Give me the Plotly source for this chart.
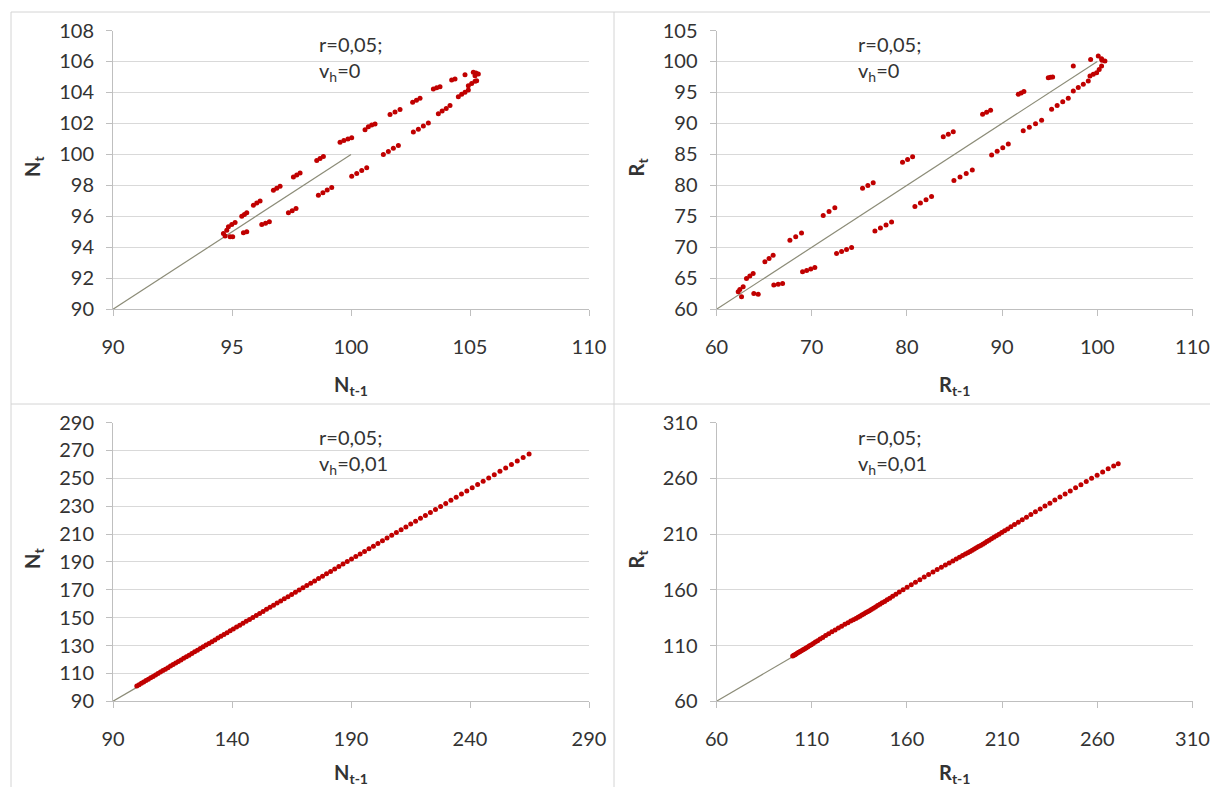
import plotly.graph_objects as go

W, H = 1210, 787

# ---------------- data ----------------
# Panel 1 (r=0,05; v_h=0): N_t vs N_{t-1}
p1_x = [94.85, 94.99, 95.13, 95.41, 95.52, 95.62, 95.90, 96.04, 96.18,
        96.74, 96.88, 97.02, 97.58, 97.72, 97.86, 98.56, 98.70, 98.84,
        99.54, 99.70, 99.87, 100.03, 100.59, 100.73, 100.87, 101.01,
        101.64, 101.85, 102.06, 102.59, 102.75, 102.90, 103.46, 103.60, 103.74,
        104.23, 104.37, 104.79, 105.14, 105.25, 105.35,
        105.21, 105.28, 104.93, 105.07, 105.21, 104.51, 104.65, 104.79, 104.93,
        103.67, 103.83, 104.00, 104.16, 102.62, 102.83, 103.04, 103.25,
        101.36, 101.57, 101.78, 101.99, 100.03, 100.24, 100.45, 100.66,
        98.63, 98.82, 99.00, 99.19, 97.37, 97.53, 97.69, 96.25, 96.41, 96.57,
        95.48, 95.62, 94.92, 95.03, 94.64, 94.71, 94.78]
p1_y = [95.33, 95.47, 95.61, 96.01, 96.12, 96.23, 96.72, 96.86, 97.00,
        97.69, 97.82, 97.94, 98.54, 98.67, 98.80, 99.61, 99.74, 99.87,
        100.79, 100.90, 101.00, 101.07, 101.59, 101.78, 101.90, 101.97,
        102.57, 102.74, 102.90, 103.37, 103.50, 103.62, 104.22, 104.30, 104.37,
        104.80, 104.87, 105.15, 105.30, 105.25, 105.19,
        105.08, 104.76, 104.44, 104.58, 104.72, 103.73, 103.88, 104.02, 104.16,
        102.62, 102.80, 102.97, 103.15, 101.44, 101.63, 101.83, 102.02,
        100.00, 100.19, 100.39, 100.58, 98.59, 98.77, 98.96, 99.14,
        97.36, 97.53, 97.70, 97.86, 96.23, 96.37, 96.51, 95.48, 95.56, 95.65,
        94.94, 95.00, 94.68, 94.68, 94.90, 94.73, 95.11]

# Panel 2 (r=0,05; v_h=0): R_t vs R_{t-1}
p2_x = [62.28, 62.45, 62.63, 62.80, 63.15, 63.50, 63.85, 65.08, 65.52, 65.95,
        67.71, 68.32, 68.93, 71.21, 71.82, 72.43, 75.34, 75.90, 76.46,
        79.54, 80.07, 80.60, 83.82, 84.35, 84.87, 87.95, 88.37, 88.79,
        91.70, 92.00, 92.29, 94.85, 95.08, 95.31, 97.48, 99.30,
        100.10, 100.45, 100.80, 100.50,
        100.45, 100.20, 99.93, 99.23, 99.58, 97.48, 98.00, 98.53, 99.05,
        95.20, 95.78, 96.37, 96.95, 92.22, 92.86, 93.51, 94.15,
        88.90, 89.48, 90.07, 90.65, 84.94, 85.58, 86.23, 86.87,
        80.84, 81.42, 82.01, 82.59, 76.64, 77.22, 77.81, 78.39,
        72.61, 73.14, 73.66, 74.19, 69.04, 69.47, 69.90, 70.33,
        66.02, 66.48, 66.94, 63.92, 64.38]
p2_y = [62.84, 63.21, 62.04, 63.65, 64.98, 65.38, 65.78, 67.66, 68.20, 68.73,
        71.14, 71.73, 72.32, 75.16, 75.78, 76.39, 79.55, 79.98, 80.41,
        83.73, 84.19, 84.64, 87.85, 88.26, 88.66, 91.49, 91.82, 92.14,
        94.71, 94.93, 95.14, 97.39, 97.44, 97.49, 99.26, 100.33,
        100.87, 100.45, 100.06, 100.20,
        99.26, 98.70, 98.19, 97.65, 97.92, 95.24, 95.78, 96.31, 96.85,
        92.30, 92.89, 93.48, 94.07, 88.82, 89.39, 89.96, 90.53,
        84.91, 85.50, 86.08, 86.67, 80.78, 81.35, 81.93, 82.50,
        76.60, 77.14, 77.67, 78.21, 72.64, 73.12, 73.61, 74.09,
        68.99, 69.31, 69.64, 69.96, 66.05, 66.28, 66.52, 66.75,
        63.91, 64.05, 64.18, 62.57, 62.41]

# Panel 3 (r=0,05; v_h=0,01): trajectory of N, plotted as N_t vs N_{t-1}
n_traj = [100.0, 100.95, 101.91, 102.88, 103.86, 104.84, 105.84, 106.84, 107.86, 108.88,
          109.92, 110.96, 112.01, 113.08, 114.15, 115.24, 116.33, 117.44, 118.55, 119.68,
          120.82, 121.96, 123.12, 124.29, 125.47, 126.66, 127.87, 129.08, 130.31, 131.55,
          132.80, 134.06, 135.33, 136.62, 137.92, 139.23, 140.55, 141.89, 143.24, 144.60,
          145.97, 147.36, 148.76, 150.17, 151.60, 153.04, 154.49, 155.96, 157.44, 158.94,
          160.45, 161.97, 163.51, 165.06, 166.63, 168.21, 169.81, 171.42, 173.05, 174.70,
          176.36, 178.03, 179.72, 181.43, 183.15, 184.89, 186.65, 188.42, 190.21, 192.02,
          193.84, 195.68, 197.54, 199.42, 201.31, 203.22, 205.15, 207.10, 209.07, 211.06,
          213.06, 215.09, 217.13, 219.19, 221.27, 223.37, 225.50, 227.64, 229.80, 231.98,
          234.19, 236.41, 238.66, 240.93, 243.21, 245.53, 247.86, 250.21, 252.59, 254.99,
          257.41, 259.86, 262.33, 264.82, 267.33]

# Panel 4 (r=0,05; v_h=0,01): trajectory of R, plotted as R_t vs R_{t-1}
r_traj = [100.0, 100.6, 101.2, 101.8, 102.5, 103.2, 103.9, 104.6, 105.4, 106.2,
          107.0, 107.9, 108.8, 109.8, 110.8, 111.9,
          113.1, 114.4, 115.8, 117.3, 118.9, 120.6, 122.3, 124.0, 125.7, 127.4,
          129.0, 130.5, 131.9, 133.2,
          134.3, 135.3, 136.3, 137.3, 138.3, 139.3, 140.3, 141.3, 142.4, 143.5,
          144.6, 145.8, 147.0, 148.3, 149.6, 151.0,
          152.5, 154.2, 156.0, 158.0, 160.1, 162.3, 164.5, 166.8, 169.1, 171.4,
          173.7, 175.9, 178.1, 180.2, 182.2, 184.1, 185.9, 187.6, 189.2, 190.7,
          192.0, 193.2, 194.3, 195.4, 196.5, 197.6, 198.7, 199.8, 200.9, 202.0,
          203.2, 204.4, 205.7, 207.0, 208.4, 209.8, 211.3, 212.9,
          214.6, 216.5, 218.5, 220.6, 222.8, 225.1, 227.5, 230.0, 232.5, 235.1,
          237.7, 240.4, 243.1, 245.8, 248.6, 251.4, 254.2, 257.0, 259.9, 262.8,
          265.7, 268.6, 271.0, 273.0]

# reference diagonals (y = x)
diag1 = [90, 100]
diag2 = [60, 100]
diag3 = [90, 100]
diag4 = [60, 100]

# axis ticks
p1_xticks = [90, 95, 100, 105, 110]
p1_yticks = [90, 92, 94, 96, 98, 100, 102, 104, 106, 108]
p2_xticks = [60, 70, 80, 90, 100, 110]
p2_yticks = [60, 65, 70, 75, 80, 85, 90, 95, 100, 105]
p3_xticks = [90, 140, 190, 240, 290]
p3_yticks = [90, 110, 130, 150, 170, 190, 210, 230, 250, 270, 290]
p4_xticks = [60, 110, 160, 210, 260, 310]
p4_yticks = [60, 110, 160, 210, 260, 310]

labels_x = ["N<sub>t-1</sub>", "R<sub>t-1</sub>", "N<sub>t-1</sub>", "R<sub>t-1</sub>"]
labels_y = ["N<sub>t</sub>", "R<sub>t</sub>", "N<sub>t</sub>", "R<sub>t</sub>"]
notes = ["r=0,05;<br>v<sub>h</sub>=0", "r=0,05;<br>v<sub>h</sub>=0",
         "r=0,05;<br>v<sub>h</sub>=0,01", "r=0,05;<br>v<sub>h</sub>=0,01"]

# ---------------- styling ----------------
FONT = "Lato, 'Open Sans', sans-serif"
TXT = "#333333"
RED = "#C00000"
DIAG = "#8C8C78"
GRID = "#D9D9D9"
AXIS = "#BFBFBF"
BORDER = "#D4D4D4"

def px(x):
    return x / W

def py(y):
    return 1 - y / H

# plot areas in pixels: (left, right, top, bottom)
areas = [
    (113, 589, 30.5, 309.3),
    (716.5, 1192.5, 30.5, 309.3),
    (113, 589, 422.5, 701.3),
    (716.5, 1192.5, 422.5, 701.3),
]
title_gap = [76, 76, 72, 72]

fig = go.Figure()

data_sets = [
    (diag1, p1_x, p1_y),
    (diag2, p2_x, p2_y),
    (diag3, n_traj[:-1], n_traj[1:]),
    (diag4, r_traj[:-1], r_traj[1:]),
]
ranges = [
    ([90, 110], [90, 108], p1_xticks, p1_yticks),
    ([60, 110], [60, 105], p2_xticks, p2_yticks),
    ([90, 290], [90, 290], p3_xticks, p3_yticks),
    ([60, 310], [60, 310], p4_xticks, p4_yticks),
]

for i, ((diag, xs, ys), (xr, yr, xt, yt), (l, r, t, b)) in enumerate(zip(data_sets, ranges, areas)):
    k = "" if i == 0 else str(i + 1)
    fig.add_trace(go.Scatter(x=diag, y=diag, mode="lines",
                             line=dict(color=DIAG, width=1.2),
                             xaxis="x" + k, yaxis="y" + k, showlegend=False,
                             hoverinfo="skip"))
    fig.add_trace(go.Scatter(x=xs, y=ys, mode="markers",
                             marker=dict(color=RED, size=5, line=dict(width=0)),
                             xaxis="x" + k, yaxis="y" + k, showlegend=False,
                             cliponaxis=False))
    fig.layout["xaxis" + k] = dict(
        domain=[px(l), px(r)], range=xr, tickvals=xt, anchor="y" + k,
        automargin=False,
        showgrid=False, zeroline=False, showline=True, linecolor=AXIS, linewidth=1,
        ticks="outside", ticklen=6, tickcolor=AXIS, tickwidth=1,
        ticklabelstandoff=14,
        tickfont=dict(family=FONT, size=20, color=TXT), fixedrange=True)
    fig.layout["yaxis" + k] = dict(
        domain=[py(b), py(t)], range=yr, tickvals=yt, anchor="x" + k,
        automargin=False,
        showgrid=True, gridcolor=GRID, gridwidth=1, zeroline=False,
        showline=True, linecolor=AXIS, linewidth=1,
        ticks="outside", ticklen=6, tickcolor=AXIS, tickwidth=1,
        ticklabelstandoff=8,
        tickfont=dict(family=FONT, size=20, color=TXT), fixedrange=True)

annotations = []
for i, (l, r, t, b) in enumerate(areas):
    # x title
    annotations.append(dict(text="<b>" + labels_x[i] + "</b>", xref="paper", yref="paper",
                            x=px((l + r) / 2), y=py(b + title_gap[i]), xanchor="center",
                            yanchor="middle", showarrow=False,
                            font=dict(family=FONT, size=20, color=TXT)))
    # y title
    annotations.append(dict(text="<b>" + labels_y[i] + "</b>", xref="paper", yref="paper",
                            x=px(l - 79), y=py((t + b) / 2 - 3), xanchor="center", yanchor="middle",
                            textangle=-90, showarrow=False,
                            font=dict(family=FONT, size=20, color=TXT)))
    # parameter note
    off = 204 if i % 2 == 0 else 139.5
    annotations.append(dict(text=notes[i], xref="paper", yref="paper",
                            x=px(l + off), y=py(t), xanchor="left", yanchor="top",
                            align="left", showarrow=False,
                            font=dict(family=FONT, size=20, color=TXT)))

shapes = [
    dict(type="line", xref="paper", yref="paper", x0=px(11), x1=px(11), y0=py(12), y1=py(800),
         line=dict(color=BORDER, width=1)),
    dict(type="line", xref="paper", yref="paper", x0=px(614), x1=px(614), y0=py(12), y1=py(800),
         line=dict(color=BORDER, width=1)),
    dict(type="line", xref="paper", yref="paper", x0=px(11), x1=px(1220), y0=py(12), y1=py(12),
         line=dict(color=BORDER, width=1)),
    dict(type="line", xref="paper", yref="paper", x0=px(11), x1=px(1220), y0=py(404), y1=py(404),
         line=dict(color=BORDER, width=1)),
]

fig.update_layout(
    width=W, height=H, autosize=False,
    margin=dict(l=0, r=0, t=0, b=0, pad=0),
    paper_bgcolor="white", plot_bgcolor="white",
    annotations=annotations, shapes=shapes,
    showlegend=False,
    font=dict(family=FONT, color=TXT),
)

fig.write_html("out.html", config=dict(displayModeBar=False),
               post_script="document.body.style.margin='0px';document.body.style.overflow='hidden';")
